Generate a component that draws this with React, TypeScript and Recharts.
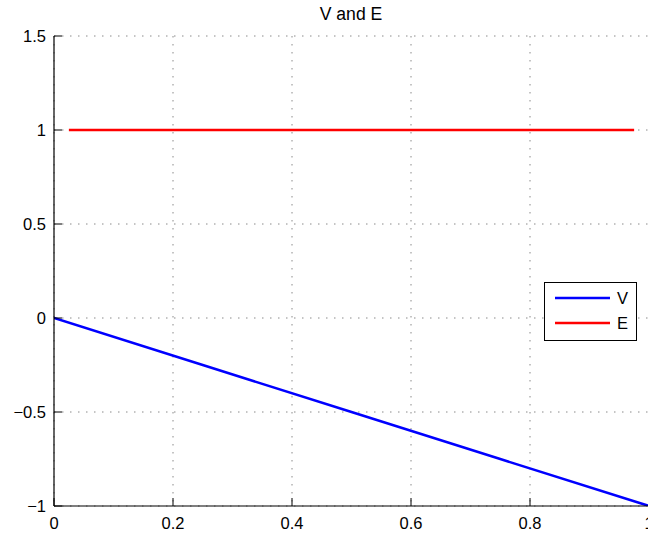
import React from 'react';
import { LineChart, Line, XAxis, YAxis, CartesianGrid } from 'recharts';

// potential V over position, energy E stays flat
const vX = [0, 0.25, 0.5, 0.75, 1];
const vValues = [0, -0.25, -0.5, -0.75, -1];
const eX = [0.025, 0.975];
const eValues = [1, 1];

const xTicks = [0, 0.2, 0.4, 0.6, 0.8, 1];
const yTicks = [-1, -0.5, 0, 0.5, 1, 1.5];

const vData = vX.map((x, i) => ({ x, v: vValues[i] }));
const eData = eX.map((x, i) => ({ x, e: eValues[i] }));

const FONT = '"Liberation Sans", Arial, Helvetica, sans-serif';
const TICK_LEN = 8;

const fmt = (n: number) => (n < 0 ? '\u2212' + String(-n) : String(n));

const BottomTick = (props: any) => {
  const { x, y, payload } = props;
  return (
    <g>
      <line x1={x} x2={x} y1={y} y2={y - TICK_LEN} stroke="#000" strokeWidth={1} />
      <text x={x} y={y + 23} textAnchor="middle" fontSize={16.5} fontFamily={FONT} fill="#000">
        {fmt(payload.value)}
      </text>
    </g>
  );
};

const TopTick = (props: any) => {
  const { x, y } = props;
  return <line x1={x} x2={x} y1={y} y2={y + TICK_LEN} stroke="#000" strokeWidth={1} />;
};

const LeftTick = (props: any) => {
  const { x, y, payload } = props;
  return (
    <g>
      <line x1={x} x2={x + TICK_LEN} y1={y} y2={y} stroke="#000" strokeWidth={1} />
      <text x={x - 8} y={y + 6} textAnchor="end" fontSize={16.5} fontFamily={FONT} fill="#000">
        {fmt(payload.value)}
      </text>
    </g>
  );
};

const LegendBox = () => (
  <svg width={93} height={59} style={{ display: 'block' }}>
    <rect x={0.5} y={0.5} width={92} height={58} fill="#fff" stroke="#000" strokeWidth={1} />
    <line x1={11} x2={66} y1={16} y2={16} stroke="#0000ff" strokeWidth={2.5} />
    <text x={73} y={22} fontSize={16.5} fontFamily={FONT} fill="#000">V</text>
    <line x1={11} x2={66} y1={41} y2={41} stroke="#ff0000" strokeWidth={2.5} />
    <text x={73} y={47} fontSize={16.5} fontFamily={FONT} fill="#000">E</text>
  </svg>
);

export default function App() {
  return (
    <div
      style={{
        position: 'absolute',
        left: 0,
        top: 0,
        width: 648,
        height: 534,
        overflow: 'hidden',
        background: '#fff',
      }}
    >
      <div
        style={{
          position: 'absolute',
          left: 0,
          width: 702,
          top: 4,
          textAlign: 'center',
          fontFamily: FONT,
          fontSize: 17.6,
          color: '#000',
        }}
      >
        V and E
      </div>
      <LineChart width={660} height={534} margin={{ top: 36, right: 11, left: 0, bottom: 0 }}>
        <CartesianGrid xAxisId="bottom" stroke="#8a8a8a" strokeDasharray="1.5 6.5" />
        <XAxis
          xAxisId="bottom"
          dataKey="x"
          type="number"
          domain={[0, 1]}
          ticks={xTicks}
          height={28}
          tickSize={0}
          tickMargin={0}
          axisLine={{ stroke: '#000', strokeWidth: 1.2 }}
          tick={<BottomTick />}
          allowDataOverflow
        />
        <XAxis
          xAxisId="top"
          orientation="top"
          dataKey="x"
          type="number"
          domain={[0, 1]}
          ticks={xTicks}
          height={0}
          tickSize={0}
          tickMargin={0}
          axisLine={{ stroke: '#000', strokeWidth: 1.2 }}
          tick={<TopTick />}
        />
        <YAxis
          type="number"
          domain={[-1, 1.5]}
          ticks={yTicks}
          width={54}
          tickSize={0}
          tickMargin={0}
          axisLine={{ stroke: '#000', strokeWidth: 1.2 }}
          tick={<LeftTick />}
          allowDataOverflow
        />
        <Line
          xAxisId="bottom"
          data={vData}
          dataKey="v"
          name="V"
          stroke="#0000ff"
          strokeWidth={2.5}
          dot={false}
          isAnimationActive={false}
        />
        <Line
          xAxisId="bottom"
          data={eData}
          dataKey="e"
          name="E"
          stroke="#ff0000"
          strokeWidth={2.5}
          dot={false}
          isAnimationActive={false}
        />
      </LineChart>
      <div style={{ position: 'absolute', left: 544, top: 282 }}>
        <LegendBox />
      </div>
    </div>
  );
}
